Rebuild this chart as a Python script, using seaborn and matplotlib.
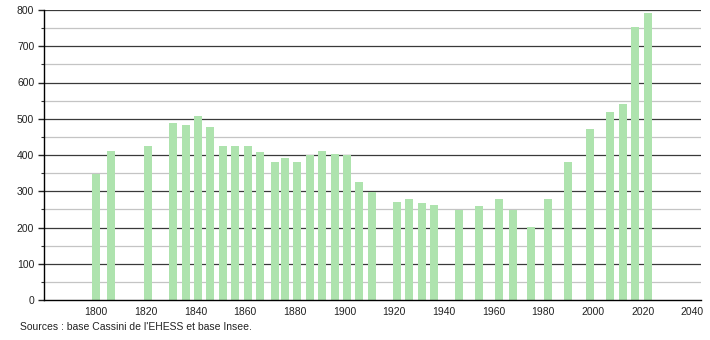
import matplotlib
matplotlib.use("Agg")
import matplotlib.pyplot as plt
import seaborn as sns
import pandas as pd
from matplotlib.ticker import MultipleLocator

years = [1800, 1806, 1821, 1831, 1836, 1841, 1846, 1851, 1856, 1861, 1866,
         1872, 1876, 1881, 1886, 1891, 1896, 1901, 1906, 1911, 1921, 1926,
         1931, 1936, 1946, 1954, 1962, 1968, 1975, 1982, 1990, 1999, 2007,
         2012, 2017, 2022]
population = [347, 411, 426, 489, 483, 508, 477, 426, 426, 426, 409,
              381, 392, 381, 399, 411, 403, 400, 326, 299, 271, 279,
              268, 262, 248, 259, 278, 248, 201, 279, 381, 473, 518,
              541, 754, 792]
x_ticks = [1800, 1820, 1840, 1860, 1880, 1900, 1920, 1940, 1960, 1980, 2000, 2020, 2040]
y_ticks = [0, 100, 200, 300, 400, 500, 600, 700, 800]
source_text = "Sources : base Cassini de l'EHESS et base Insee."

sns.set_style("white")
plt.rcParams['font.family'] = ['Liberation Sans', 'DejaVu Sans']

df = pd.DataFrame({"year": years, "pop": population})

fig = plt.figure(figsize=(7.1, 3.4), dpi=100)
ax = fig.add_axes([44/710, 40/340, (701-44)/710, 290/340])

sns.barplot(data=df, x="year", y="pop", native_scale=True, color="#aee3ae",
            saturation=1, width=0.8, ax=ax, zorder=3, errorbar=None,
            linewidth=0, edgecolor="none")

ax.set_xlim(1779, 2043.5)
ax.set_ylim(0, 800)
ax.set_xticks(x_ticks)
ax.set_xticklabels([str(t) for t in x_ticks])
ax.set_yticks(y_ticks)
ax.yaxis.set_minor_locator(MultipleLocator(50))

ax.grid(False)
for v in range(50, 801, 50):
    if v % 100 == 0:
        ax.axhline(v, color="#3a3a3a", lw=0.9, zorder=1)
    else:
        ax.axhline(v, color="#c4c4c4", lw=0.9, zorder=1)

for s in ["top", "right"]:
    ax.spines[s].set_visible(False)
ax.spines["left"].set_color("black")
ax.spines["bottom"].set_color("black")
ax.spines["left"].set_linewidth(1)
ax.spines["bottom"].set_linewidth(1)
ax.spines["left"].set_zorder(5)
ax.spines["bottom"].set_zorder(5)

ax.tick_params(axis="x", length=0, labelsize=7.5, pad=5, colors="#222222")
ax.tick_params(axis="y", which="major", length=4, width=1, labelsize=7.5, pad=3,
               colors="#222222", left=True)
ax.tick_params(axis="y", which="minor", length=2, width=0.8, left=True, color="#333333")
ax.set_xlabel("")
ax.set_ylabel("")

fig.text(20/710, (340-327)/340, source_text, fontsize=7.5, color="#222222",
         va="center", ha="left")

fig.savefig("out.png", dpi=100)
